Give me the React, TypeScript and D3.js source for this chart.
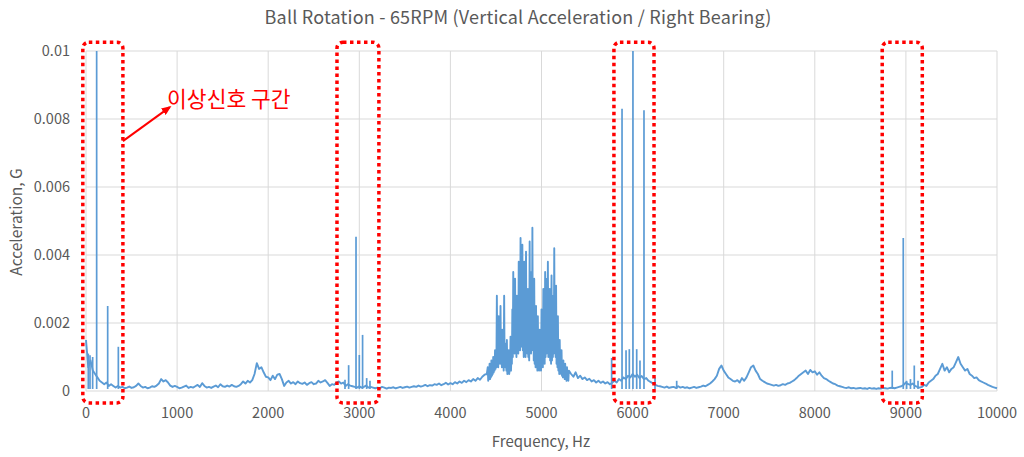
import React from "react";
import * as d3 from "d3";

// Values in units of 1e-4 G
const UNIT = 1e-4;

// Low band: 0 .. 4400 Hz, step 25 Hz
const lowStart = 0;
const lowStep = 25;
const lowValues = [
  15, 7, 9, 6, 5, 4, 3, 2.5,
  2, 2.5, 1.5, 2, 1.5, 1, 1.5, 1,
  1.2, 0.8, 1, 1.3, 0.9, 1.1, 1.5, 2.2,
  1.5, 1, 1.2, 0.8, 1, 1.4, 1.2, 1.6,
  2.2, 3.5, 2.8, 3.2, 2.5, 1.6, 1.2, 1.5,
  1.2, 0.8, 1, 1.3, 1.6, 0.9, 1.2, 1,
  1.4, 1.8, 1.2, 2.3, 1.5, 1, 1.2, 0.9,
  1.3, 1.6, 1.1, 2, 1.4, 1.2, 1.6, 1.3,
  1.8, 1.4, 1.2, 1.5, 2, 2.8, 2.2, 3,
  2.5, 3.2, 5, 8.2, 6.5, 7, 5.5, 4.2,
  4, 3.2, 4.5, 3.5, 4.8, 5, 3.5, 1.5,
  2.5, 3, 2.2, 2.6, 2, 2.8, 2.3, 2.1,
  2.5, 1.8, 2.3, 2.6, 2, 2.2, 3, 2.5,
  2.8, 3.2, 2.4, 1.5, 2, 1.8, 2.5, 2.8,
  2.2, 2.5, 1.5, 2, 1.6, 1.4, 1.2, 1,
  1.4, 1, 1.2, 1.6, 1, 1.2, 1, 0.8,
  1, 0.8, 1.2, 1, 0.7, 1, 0.9, 1.1,
  0.8, 1, 1.2, 0.9, 1.1, 1.3, 1, 1.2,
  1.4, 1.2, 1.6, 1.3, 1.5, 1.8, 1.4, 1.7,
  1.6, 2, 1.8, 2.2, 1.7, 2, 2.4, 1.9,
  2.3, 2, 2.6, 2.2, 2.8, 2.4, 3, 2.6,
  3.2, 2.8, 3.5, 3, 3.8, 3.3, 4.2, 4.8,
  5,
];

// Main hump, upper swings: 4410 .. 5300 Hz, step 10 Hz
const humpStart = 4410;
const humpStep = 10;
const humpValues = [
  7, 4, 8, 6, 9,
  5, 10, 7, 12, 8,
  28, 10, 22, 9, 25, 12, 18, 10, 28, 14,
  8, 15, 7, 12, 6, 16, 10, 24, 35, 18,
  33, 15, 28, 12, 38, 20, 45, 25, 43, 18,
  38, 16, 41, 22, 30, 16, 44, 20, 35, 48,
  25, 33, 14, 25, 9, 22, 10, 18, 8, 24,
  12, 30, 15, 35, 20, 33, 38, 18, 30, 14,
  34, 20, 28, 42, 22, 31, 15, 22, 10, 15,
  8, 12, 6, 9, 5, 8, 4.5, 7, 4, 6,
];

// Main hump, troughs between swings: 4415 .. 5295 Hz, step 10 Hz
const troughStart = 4415;
const troughStep = 10;
const troughValues = [
  3, 4, 3.5, 4, 4.5,
  5, 5.5, 6, 6.5, 7,
  8, 7, 9, 8, 10, 7, 9, 6, 8, 7,
  6, 5, 6, 5, 7, 6, 8, 10, 12, 11,
  12, 10, 13, 11, 14, 12, 15, 13, 12, 10,
  11, 10, 12, 11, 10, 9, 12, 11, 14, 12,
  9, 8, 7, 8, 6, 7, 6, 7, 6, 8,
  7, 9, 8, 10, 11, 12, 10, 11, 9, 8,
  9, 10, 11, 12, 10, 8, 7, 6, 5, 6,
  5, 4.5, 4, 4.5, 3.5, 4, 3, 3.5, 3,
];

// High band: 5325 .. 10000 Hz, step 25 Hz
const highStart = 5325;
const highStep = 25;
const highValues = [
  5, 4.2, 5.5, 3.8, 4.5, 3.5, 4, 3.2,
  3.6, 2.8, 3.2, 2.5, 3, 2.4, 2.8, 2.2,
  2.6, 2, 2.4, 3, 2.5, 3.5, 3, 4,
  3.5, 4.5, 4, 5, 4.2, 4.8, 3.8, 4.4,
  3.5, 3.8, 3, 2.6, 2.2, 1.8, 1.5, 1.4,
  1.2, 1, 1.3, 0.9, 1.1, 1.2, 0.9, 1.4,
  1, 1.2, 0.9, 1.1, 0.8, 1, 1.2, 0.9,
  1.1, 1.3, 1.6, 1.4, 1.8, 2.2, 2.8, 3.5,
  4.5, 6.5, 7.5, 6, 5, 4, 3.5, 3,
  2.8, 3.2, 2.5, 3.8, 3, 4, 5.5, 7,
  7.5, 6, 5, 3.5, 3, 2.6, 2.2, 2,
  1.8, 1.6, 1.8, 1.5, 1.7, 2, 1.8, 2.2,
  2.4, 2.8, 3.2, 3.8, 4.5, 5, 5.5, 6,
  5, 6.2, 5.5, 5.8, 4.8, 5.5, 4.5, 3.8,
  3.5, 3, 2.6, 2.2, 2, 1.6, 1.4, 1.2,
  1, 0.9, 1.1, 0.8, 0.9, 0.7, 0.8, 0.9,
  0.7, 0.8, 0.6, 0.9, 0.7, 0.8, 0.6, 0.8,
  0.7, 0.9, 0.8, 0.7, 0.9, 1, 0.8, 1,
  1.2, 1.4, 1.8, 2.5, 2, 1.8, 2.2, 1.5,
  1.2, 1, 1.2, 1.8, 1.5, 2.5, 3, 3.5,
  4.5, 5, 6.5, 8, 6, 7, 5.5, 6.5,
  7, 8.5, 10, 8, 7, 6, 6.5, 5,
  4.5, 3.8, 4, 3.2, 2.8, 2.5, 2.2, 1.8,
  1.5, 1.2, 1, 0.8,
];

// Narrow spectral lines (frequency Hz, peak in 1e-4 G)
const peakFreqs = [25, 44, 73, 117, 238, 355,
  2843, 2883, 2964, 3000, 3036, 3081, 3117,
  5770, 5884, 5928, 5964, 6004, 6045, 6081, 6125, 6246, 6484,
  8850, 8971, 9008, 9050, 9092, 9133];
const peakValues = [11, 10.5, 10, 100, 25, 13,
  3.3, 7.6, 45.4, 10.6, 16.5, 3.8, 3,
  9.7, 83, 12, 12.3, 100, 12.3, 9, 82.6, 4, 3,
  6, 45, 3, 3.5, 7.5, 3];

const xTicks = [0, 1000, 2000, 3000, 4000, 5000, 6000, 7000, 8000, 9000, 10000];
const yTicks = [0, 0.002, 0.004, 0.006, 0.008, 0.01];
const yTickLabels = ["0", "0.002", "0.004", "0.006", "0.008", "0.01"];

// Highlighted "abnormal signal" zones
const boxFreqStart = [-35, 2755, 5795, 8740];
const boxFreqEnd = [405, 3215, 6235, 9180];
const boxTop = 0.01026;
const boxBottom = -0.00035;

const title = "Ball Rotation - 65RPM (Vertical Acceleration  / Right Bearing)";
const xTitle = "Frequency, Hz";
const yTitle = "Acceleration, G";
const annotation = "이상신호 구간";
const arrowFrom = [405, 0.00735];
const arrowTo = [920, 0.00835];
const annotationAt = [890, 0.00855];

export default function App() {
  const W = 1024, H = 457;
  const x = d3.scaleLinear().domain([0, 10000]).range([86, 997]);
  const y = d3.scaleLinear().domain([0, 0.01]).range([391, 51]);

  const pts: [number, number][] = [];
  lowValues.forEach((v, i) => pts.push([lowStart + i * lowStep, v * UNIT]));
  humpValues.forEach((v, i) => pts.push([humpStart + i * humpStep, v * UNIT]));
  troughValues.forEach((v, i) => pts.push([troughStart + i * troughStep, v * UNIT]));
  highValues.forEach((v, i) => pts.push([highStart + i * highStep, v * UNIT]));
  pts.sort((a, b) => a[0] - b[0]);

  const line = d3.line<[number, number]>().x(d => x(d[0])).y(d => y(d[1]));
  const pathD = line(pts) || "";
  const blue = "#5b9bd5";
  const grid = "#d9d9d9";
  const txt = "#595959";
  const font = "'Noto Sans CJK KR', 'Noto Sans', sans-serif";

  const ax0 = x(arrowFrom[0]), ay0 = y(arrowFrom[1]);
  const ax1 = x(arrowTo[0]), ay1 = y(arrowTo[1]);

  return (
    <svg width={W} height={H} style={{ position: "fixed", left: 0, top: 0, background: "#fff" }} fontFamily={font}>
      <defs>
        <marker id="arrowhead" markerWidth="10" markerHeight="8" refX="8" refY="4" orient="auto" markerUnits="userSpaceOnUse">
          <path d="M0,0 L10,4 L0,8 z" fill="#ff0000" />
        </marker>
      </defs>
      <rect x={0} y={0} width={W} height={H} fill="#fff" />
      {xTicks.map(t => (
        <line key={"vx" + t} x1={x(t)} x2={x(t)} y1={y(0.01)} y2={y(0)} stroke={grid} strokeWidth={1} />
      ))}
      {yTicks.map(t => (
        <line key={"hy" + t} x1={x(0)} x2={x(10000)} y1={y(t)} y2={y(t)} stroke={grid} strokeWidth={1} />
      ))}
      {xTicks.map(t => (
        <text key={"xl" + t} x={x(t)} y={418} textAnchor="middle" fontSize={14.5} fill={txt}>{t}</text>
      ))}
      {yTicks.map((t, i) => (
        <text key={"yl" + t} x={70} y={y(t) + 5} textAnchor="end" fontSize={14.5} fill={txt}>{yTickLabels[i]}</text>
      ))}
      <path d={pathD} fill="none" stroke={blue} strokeWidth={1.9} strokeLinejoin="round" />
      {peakFreqs.map((f, i) => (
        <line key={"pk" + i} x1={x(f)} x2={x(f)} y1={y(0.6 * UNIT)} y2={y(peakValues[i] * UNIT)} stroke={blue} strokeWidth={1.7} />
      ))}
      {boxFreqStart.map((f, i) => (
        <rect key={"bx" + i} x={x(f)} y={y(boxTop)} width={x(boxFreqEnd[i]) - x(f)} height={y(boxBottom) - y(boxTop)}
          rx={6} fill="none" stroke="#ff0000" strokeWidth={3.5} strokeDasharray="3.5 3.5" />
      ))}
      <line x1={ax0} y1={ay0} x2={ax1} y2={ay1} stroke="#ff0000" strokeWidth={2} markerEnd="url(#arrowhead)" />
      <text x={x(annotationAt[0])} y={y(annotationAt[1]) + 7} fontSize={21.5} fill="#ff0000">{annotation}</text>
      <text x={518} y={24} textAnchor="middle" fontSize={18} letterSpacing={0.2} fill={txt}>{title}</text>
      <text x={541} y={447} textAnchor="middle" fontSize={15} fill={txt}>{xTitle}</text>
      <text transform={`translate(22,222) rotate(-90)`} textAnchor="middle" fontSize={15.5} fill={txt}>{yTitle}</text>
    </svg>
  );
}
